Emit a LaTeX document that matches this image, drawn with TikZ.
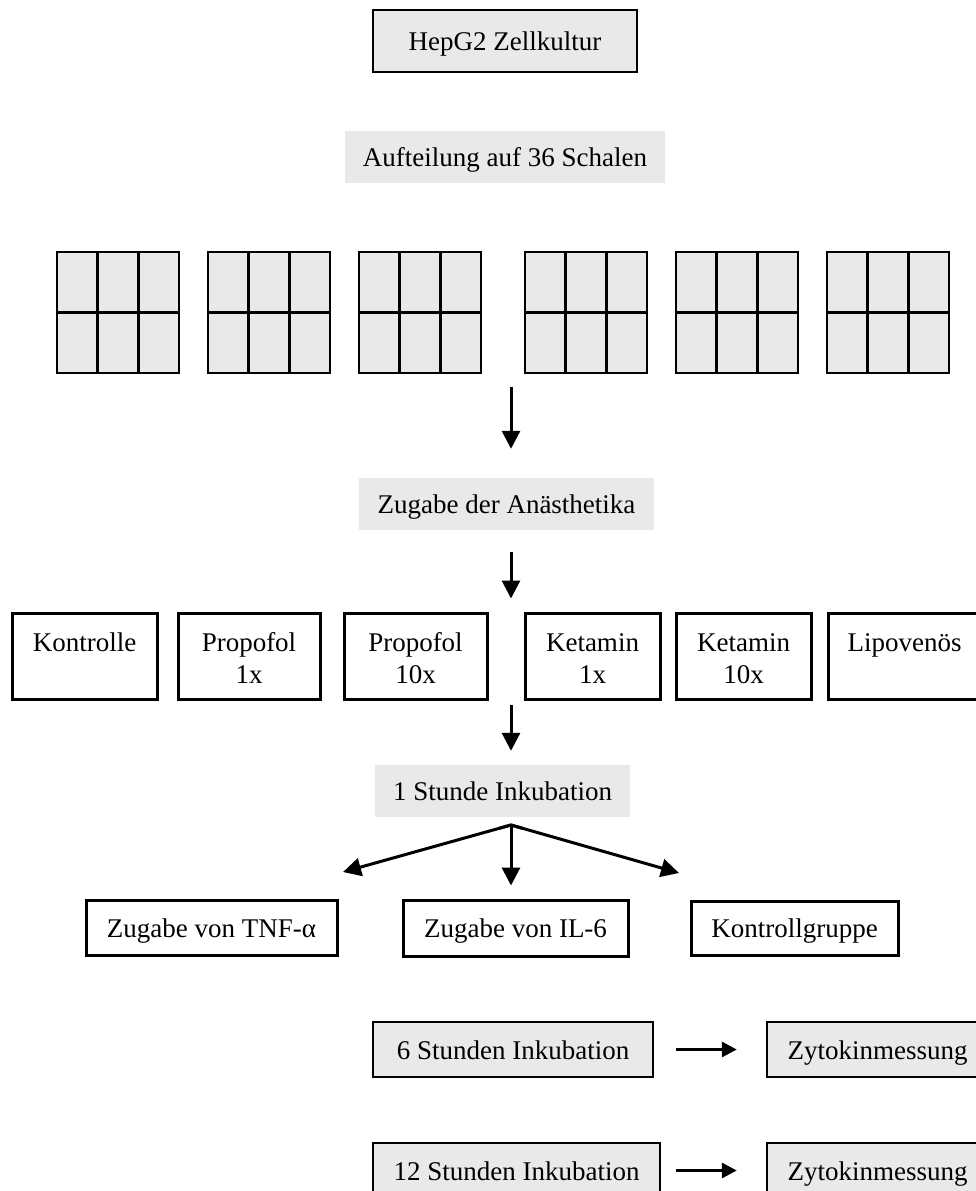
\documentclass[tikz,border=0pt]{standalone}
\usepackage{fontspec}
\setmainfont{Liberation Serif}
\usetikzlibrary{arrows.meta,calc}
\definecolor{boxgray}{RGB}{233,233,233}
\newcommand{\fsz}{\fontsize{27}{32}\selectfont}
\newcommand{\twol}[2]{\rule{0pt}{31.6pt}#1\strut\\\strut #2}
\begin{document}
\begin{tikzpicture}[x=1pt,y=-1pt,
  every node/.style={font=\fsz, inner sep=0pt},
  graybox/.style={draw, line width=2.4pt, fill=boxgray, text height=19pt, text depth=0pt},
  plainbox/.style={fill=boxgray, text height=19pt, text depth=0pt},
  whitebox/.style={draw, line width=3pt, fill=white, text height=19pt, text depth=0pt},
  rowbox/.style={draw, line width=3pt, fill=white, align=center, minimum height=86pt},
  arr/.style={line width=3pt, -{Triangle[length=18pt,width=18pt]}},
  harr/.style={line width=3pt, -{Triangle[length=15pt,width=15pt]}},
  plate/.style={fill=boxgray, draw, line width=2.6pt},
  plateline/.style={line width=2.6pt}
]
\useasboundingbox (0,0) rectangle (976,1191);

% top
\node[graybox, minimum width=264pt, minimum height=62pt] (hep) at (505,41) {HepG2 Zellkultur};
\node[plainbox, minimum width=320pt, minimum height=52pt] (auf) at (505,157) {Aufteilung auf 36 Schalen};

% plates
\foreach \x in {57,208,359,525,676,827} {
  \draw[plate] (\x,252) rectangle ++(122,121);
  \draw[plateline] (\x+40.7,252) -- ++(0,121) (\x+81.3,252) -- ++(0,121) (\x,312.5) -- ++(122,0);
}

\coordinate (cx) at (511,0);
\coordinate (a1) at (511,387);

\node[plainbox, minimum width=295pt, minimum height=52pt] (zug) at (506.5,504) {Zugabe der Anästhetika};
\draw[arr, shorten >=29pt] (a1) -- (cx |- zug.north);

% row of groups
\node[rowbox, minimum width=145pt] (kon) at (84.5,656) {\twol{Kontrolle}{}};
\node[rowbox, minimum width=142pt] (p1) at (249,656) {\twol{Propofol}{1x}};
\node[rowbox, minimum width=143pt] (p10) at (415.5,656) {\twol{Propofol}{10x}};
\node[rowbox, minimum width=135pt] (k1) at (592.5,656) {\twol{Ketamin}{1x}};
\node[rowbox, minimum width=135pt] (k10) at (743.5,656) {\twol{Ketamin}{10x}};
\node[rowbox, minimum width=153pt] (lip) at (904.5,656) {\twol{Lipovenös}{}};

\draw[arr, shorten <=22pt, shorten >=13pt] (cx |- zug.south) -- (cx |- k1.north);

\node[plainbox, minimum width=255pt, minimum height=52pt] (inc) at (502.5,791) {1 Stunde Inkubation};
\draw[arr, shorten <=4pt, shorten >=14pt] (cx |- k1.south) -- (cx |- inc.north);

% branching
\node[whitebox, minimum width=251pt, minimum height=55pt] (tnf) at (211.5,927.5) {Zugabe von TNF-α};
\node[whitebox, minimum width=225pt, minimum height=56pt] (il6) at (515.5,928) {Zugabe von IL-6};
\node[whitebox, minimum width=207pt, minimum height=54pt] (kg) at (794.5,928) {Kontrollgruppe};

\coordinate (br) at (511,825);
\coordinate (tl) at (343,872);
\coordinate (tr) at (679,873);
\draw[arr] (br) -- (tl);
\draw[arr] (br) -- (tr);
\draw[arr, shorten >=13pt] (br) -- (cx |- il6.north);
\draw[line width=3pt, line join=miter] ($(br)!12pt!(tl)$) -- (br) -- ($(br)!12pt!(tr)$);

% incubation times
\node[graybox, minimum width=280pt, minimum height=55pt] (h6) at (513,1049.5) {6 Stunden Inkubation};
\node[graybox, minimum width=221pt, minimum height=55pt] (z1) at (877.5,1049.5) {Zytokinmessung};
\draw[harr, shorten <=22pt, shorten >=29pt] (h6.east) -- (z1.west);

\node[graybox, minimum width=287pt, minimum height=55pt] (h12) at (516.5,1170.5) {12 Stunden Inkubation};
\node[graybox, minimum width=221pt, minimum height=55pt] (z2) at (877.5,1170.5) {Zytokinmessung};
\draw[harr, shorten <=15pt, shorten >=29pt] (h12.east) -- (z2.west);
\end{tikzpicture}
\end{document}
